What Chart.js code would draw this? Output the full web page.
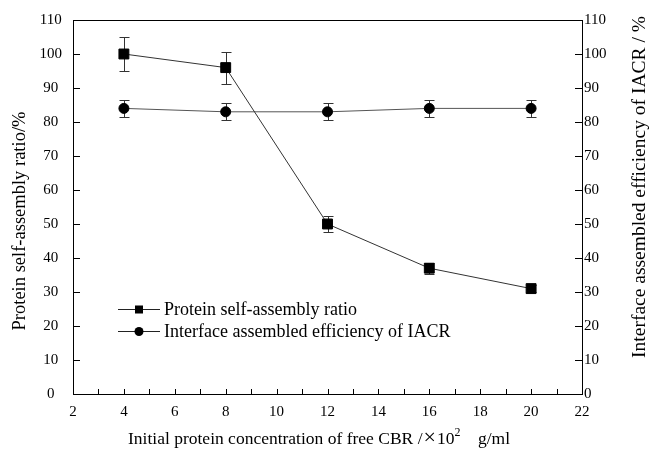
<!DOCTYPE html>
<html>
<head>
<meta charset="utf-8">
<script src="https://cdn.jsdelivr.net/npm/chart.js@4.4.1/dist/chart.umd.min.js"></script>
<style>
  body { margin: 0; background: #fff; }
  #wrap { width: 650px; height: 450px; }
</style>
</head>
<body>
<div id="wrap"><canvas id="chart"></canvas></div>
<script>
const concentrations = [4, 8, 12, 16, 20];
const selfAssembly = [100, 96, 50, 37, 31];
const selfAssemblyErr = [5, 4.7, 2.5, 1.6, 1.1];
const interfaceEff = [84, 83, 83, 84, 84];
const interfaceErr = [2.5, 2.5, 2.5, 2.5, 2.5];

const yTitle = "Protein self-assembly ratio/%";
const y1Title = "Interface assembled efficiency of IACR / %";

const serif = "'Liberation Serif', 'Times New Roman', serif";

// error bars drawn under the markers
const errorBars = {
  id: "errorBars",
  beforeDatasetsDraw(chart) {
    const ctx = chart.ctx;
    const x = chart.scales.x;
    ctx.save();
    ctx.strokeStyle = "#333";
    ctx.lineWidth = 1;
    chart.data.datasets.forEach(ds => {
      const y = chart.scales[ds.yAxisID];
      ds.data.forEach((p, i) => {
        const px = Math.round(x.getPixelForValue(p.x)) + 0.5;
        const top = Math.round(y.getPixelForValue(p.y + ds.errors[i])) + 0.5;
        const bot = Math.round(y.getPixelForValue(p.y - ds.errors[i])) + 0.5;
        ctx.beginPath();
        ctx.moveTo(px, top); ctx.lineTo(px, bot);
        ctx.moveTo(px - 5, top); ctx.lineTo(px + 5, top);
        ctx.moveTo(px - 5, bot); ctx.lineTo(px + 5, bot);
        ctx.stroke();
      });
    });
    ctx.restore();
  }
};

// frame, inward ticks and axis titles
const frameTicks = {
  id: "frameTicks",
  afterDraw(chart) {
    const { ctx, chartArea: a } = chart;
    const x = chart.scales.x, y = chart.scales.y, y1 = chart.scales.y1;
    ctx.save();
    ctx.strokeStyle = "#000";
    ctx.lineWidth = 1;
    ctx.strokeRect(Math.round(a.left) + 0.5, Math.round(a.top) + 0.5,
      Math.round(a.right - a.left), Math.round(a.bottom - a.top));
    ctx.beginPath();
    for (let v = 10; v < 110; v += 10) {
      const py = Math.round(y.getPixelForValue(v)) + 0.5;
      ctx.moveTo(a.left, py); ctx.lineTo(a.left + 7, py);
      const py1 = Math.round(y1.getPixelForValue(v)) + 0.5;
      ctx.moveTo(a.right, py1); ctx.lineTo(a.right - 7, py1);
    }
    for (let v = 3; v < 22; v++) {
      const px = Math.round(x.getPixelForValue(v)) + 0.5;
      ctx.moveTo(px, a.bottom); ctx.lineTo(px, a.bottom - 5);
    }
    ctx.stroke();

    // x title, written in pieces for the ×10² unit
    ctx.fillStyle = "#000";
    ctx.textBaseline = "alphabetic";
    ctx.textAlign = "left";
    const base = 444;
    let tx = 128;
    ctx.font = "17.5px " + serif;
    const head = "Initial protein concentration of free CBR /";
    ctx.fillText(head, tx, base);
    tx += ctx.measureText(head).width + 1;
    ctx.font = "22px " + serif;
    ctx.fillText("×", tx, base);
    tx += ctx.measureText("×").width + 1;
    ctx.font = "17.5px " + serif;
    ctx.fillText("10", tx, base);
    tx += ctx.measureText("10").width;
    ctx.font = "12px " + serif;
    ctx.fillText("2", tx, base - 8);
    ctx.font = "17.5px " + serif;
    ctx.fillText("g/ml", 478, base);

    ctx.textAlign = "center";
    ctx.textBaseline = "middle";
    ctx.font = "18.5px " + serif;
    ctx.translate(20, (a.top + a.bottom) / 2 + 14);
    ctx.rotate(-Math.PI / 2);
    ctx.fillText(yTitle, 0, 0);
    ctx.restore();

    ctx.save();
    ctx.fillStyle = "#000";
    ctx.textAlign = "center";
    ctx.textBaseline = "middle";
    ctx.font = "19.5px " + serif;
    ctx.translate(640, 187);
    ctx.rotate(-Math.PI / 2);
    ctx.fillText(y1Title, 0, 0);
    ctx.restore();
  }
};

// legend inside the plot, lower left
const insideLegend = {
  id: "insideLegend",
  afterDraw(chart) {
    const { ctx, chartArea: a } = chart;
    ctx.save();
    ctx.font = "18px " + serif;
    ctx.textBaseline = "middle";
    chart.data.datasets.forEach((ds, i) => {
      const ly = Math.round(a.top + 289 + i * 22) + 0.5;
      const lx = a.left + 45;
      ctx.strokeStyle = "#222";
      ctx.lineWidth = 1;
      ctx.beginPath();
      ctx.moveTo(lx, ly); ctx.lineTo(lx + 42, ly);
      ctx.stroke();
      ctx.fillStyle = "#000";
      if (ds.pointStyle === "rect") {
        ctx.fillRect(lx + 17, ly - 4, 8, 8);
      } else {
        ctx.beginPath();
        ctx.arc(lx + 21, ly, 4.5, 0, Math.PI * 2);
        ctx.fill();
      }
      ctx.fillText(ds.label, lx + 46, ly + 1);
    });
    ctx.restore();
  }
};

const tickFont = { family: serif, size: 15 };

new Chart(document.getElementById("chart"), {
  type: "line",
  data: {
    datasets: [
      {
        label: "Protein self-assembly ratio",
        data: concentrations.map((c, i) => ({ x: c, y: selfAssembly[i] })),
        errors: selfAssemblyErr,
        yAxisID: "y",
        borderColor: "#333",
        borderWidth: 1,
        pointStyle: "rect",
        pointRadius: 7,
        pointBackgroundColor: "#000",
        pointBorderColor: "#000",
        tension: 0
      },
      {
        label: "Interface assembled efficiency of IACR",
        data: concentrations.map((c, i) => ({ x: c, y: interfaceEff[i] })),
        errors: interfaceErr,
        yAxisID: "y1",
        borderColor: "#555",
        borderWidth: 1,
        pointStyle: "circle",
        pointRadius: 5,
        pointBackgroundColor: "#000",
        pointBorderColor: "#000",
        tension: 0
      }
    ]
  },
  options: {
    responsive: true,
    maintainAspectRatio: false,
    animation: false,
    layout: { padding: { top: 19, right: 0, left: 0, bottom: 0 } },
    plugins: { legend: { display: false }, tooltip: { enabled: false } },
    scales: {
      x: {
        type: "linear",
        min: 2, max: 22,
        grid: { display: false, drawTicks: false },
        border: { display: true, color: "#000" },
        ticks: { stepSize: 2, color: "#000", font: tickFont, padding: 9, maxRotation: 0 },
        afterFit: s => { s.height = 56; }
      },
      y: {
        position: "left",
        min: 0, max: 110,
        grid: { display: false, drawTicks: false },
        border: { display: true, color: "#000" },
        ticks: { stepSize: 10, color: "#000", font: tickFont, padding: 11, crossAlign: "center" },
        afterFit: s => { s.width = 73; }
      },
      y1: {
        position: "right",
        min: 0, max: 110,
        grid: { display: false, drawTicks: false },
        border: { display: true, color: "#000" },
        ticks: { stepSize: 10, color: "#000", font: tickFont, padding: 2 },
        afterFit: s => { s.width = 68; }
      }
    }
  },
  plugins: [errorBars, frameTicks, insideLegend]
});
</script>
</body>
</html>
